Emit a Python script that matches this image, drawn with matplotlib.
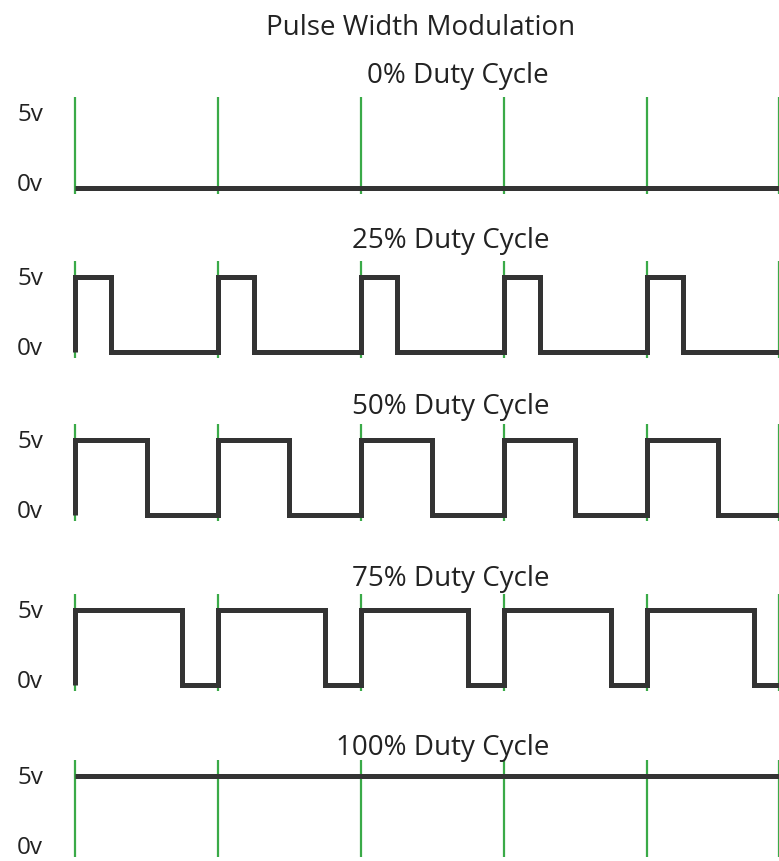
import matplotlib
matplotlib.use("Agg")
import matplotlib.pyplot as plt
from matplotlib.transforms import blended_transform_factory, offset_copy

plt.rcParams["font.family"] = ["Open Sans", "DejaVu Sans"]

# chart data
duty_cycles = [0, 25, 50, 75, 100]
period_starts = [0, 1, 2, 3, 4]
end_time = 4.92
marker_times = [0, 1, 2, 3, 4, 4.92]
levels = [0, 5]
level_labels = ["0v", "5v"]

sig_color = "#333333"
green = "#3aaa48"
txt = "#222222"

W, H = 779, 861
fig = plt.figure(figsize=(W / 100, H / 100), dpi=100)

px_per_period = 143.0
x0_px = 75.0
left_px = 68.0
top5v_px = [113, 277, 440, 610, 776]
title_y_px = [76, 241, 407, 579, 748]
px_per_volt = 15.0
pad_top, pad_bot = 16.0, 6.0
label_shift = [3, -2]  # px upward for 0v / 5v labels


def wave(duty):
    if duty == 0:
        return [period_starts[0], end_time], [0, 0]
    if duty == 100:
        return [period_starts[0], end_time], [5, 5]
    xs, ys = [period_starts[0]], [0]
    for s in period_starts:
        xs += [s, s, s + duty / 100, s + duty / 100]
        ys += [0, 5, 5, 0]
    xs.append(end_time)
    ys.append(0)
    return xs, ys


xmin = (left_px - x0_px) / px_per_period
xmax = (W - x0_px) / px_per_period
ymin = -pad_bot / px_per_volt
ymax = 5 + pad_top / px_per_volt
ax_h_px = 75 + pad_top + pad_bot

for i, d in enumerate(duty_cycles):
    top_px = top5v_px[i] - pad_top
    ax = fig.add_axes([left_px / W, 1 - (top_px + ax_h_px) / H,
                       (W - left_px) / W, ax_h_px / H])
    for t in marker_times:
        ax.axvline(t, color=green, lw=1.6, zorder=1)
    xs, ys = wave(d)
    ax.plot(xs, ys, color=sig_color, lw=3.6, solid_joinstyle="miter",
            solid_capstyle="butt", zorder=2)
    ax.set_xlim(xmin, xmax)
    ax.set_ylim(ymin, ymax)
    ax.set_xticks([])
    ax.set_yticks([])
    trans = blended_transform_factory(ax.transAxes, ax.transData)
    lx = (43 - left_px) / (W - left_px)
    for lv, lab, sh in zip(levels, level_labels, label_shift):
        ax.text(lx, lv, lab, ha="right", va="center", fontsize=17.5,
                color=txt, clip_on=False,
                transform=offset_copy(trans, fig=fig, x=0, y=sh,
                                      units="dots"))
    for sp in ax.spines.values():
        sp.set_visible(False)
    ax.patch.set_alpha(0)
    fig.text(549 / W, 1 - title_y_px[i] / H, f"{d}% Duty Cycle",
             ha="right", va="center", fontsize=20, color=txt)

fig.text(421 / W, 1 - 28 / H, "Pulse Width Modulation", ha="center",
         va="center", fontsize=20, color=txt)

fig.savefig("out.png", dpi=100)
